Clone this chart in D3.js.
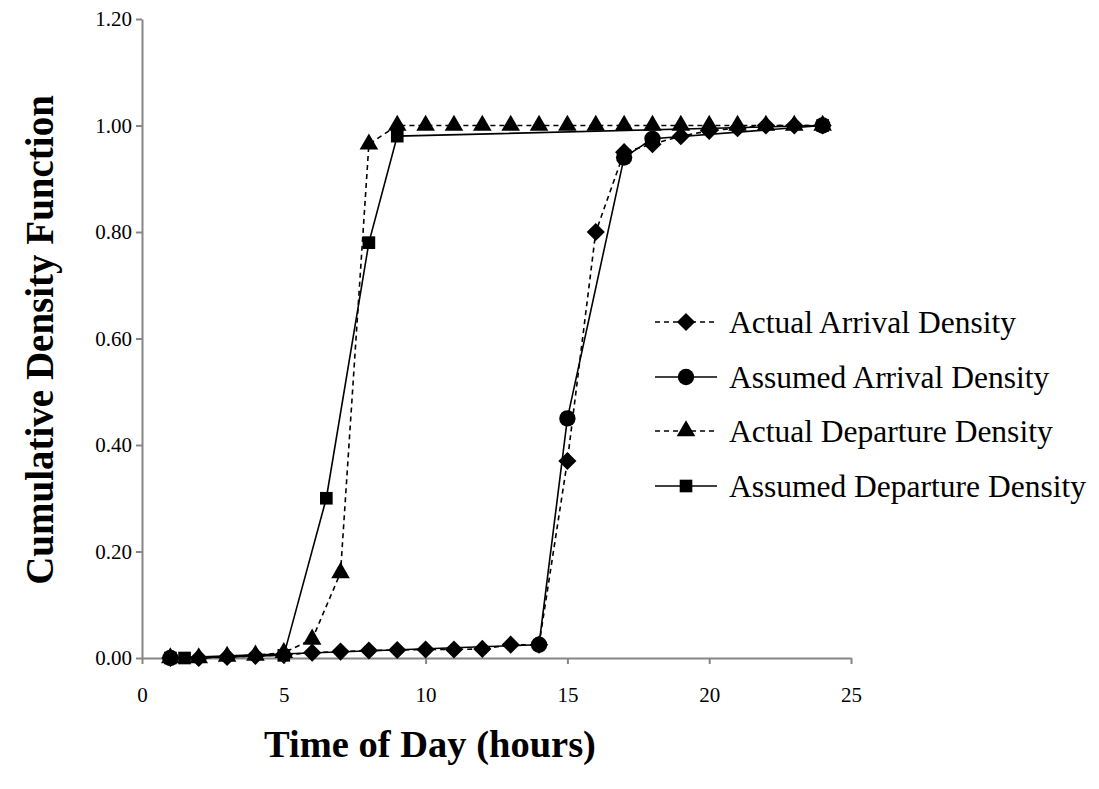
<!DOCTYPE html>
<html><head><meta charset="utf-8">
<script src="https://cdn.jsdelivr.net/npm/d3@7"></script>
<style>body{margin:0;background:#fff}</style>
</head><body>
<svg id="c" width="1099" height="789"></svg>
<script>
const xTicks = [0,5,10,15,20,25];
const yTicks = [0,0.2,0.4,0.6,0.8,1.0,1.2];

const actArrT = [1,2,3,4,5,6,7,8,9,10,11,12,13,14,15,16,17,18,19,20,21,22,23,24];
const actArrV = [0,0,0.002,0.004,0.006,0.01,0.012,0.014,0.015,0.016,0.016,0.017,0.025,0.025,0.37,0.80,0.95,0.965,0.98,0.99,0.995,1.0,1.0,1.0];

const asmArrT = [1,14,15,17,18,24];
const asmArrV = [0,0.025,0.45,0.94,0.975,1.0];

const actDepT = [1,2,3,4,5,6,7,8,9,10,11,12,13,14,15,16,17,18,19,20,21,22,23,24];
const actDepV = [0,0,0.003,0.005,0.01,0.035,0.16,0.965,1.0,1.0,1.0,1.0,1.0,1.0,1.0,1.0,1.0,1.0,1.0,1.0,1.0,1.0,1.0,1.0];

const asmDepT = [1,1.5,5,6.5,8,9,24];
const asmDepV = [0,0,0.005,0.30,0.78,0.98,1.0];

const seriesNames = ["Actual Arrival Density","Assumed Arrival Density","Actual Departure Density","Assumed Departure Density"];

const svg = d3.select("#c");
const x = d3.scaleLinear().domain([0,25]).range([142,851]);
const y = d3.scaleLinear().domain([0,1.2]).range([658,19]);
const axisColor = "#868686";
const serif = "'Liberation Serif','Times New Roman',serif";

const xa = svg.append("g").attr("transform","translate(0,658)")
  .call(d3.axisBottom(x).tickValues(xTicks).tickSize(6).tickSizeOuter(0).tickPadding(23).tickFormat(d3.format("d")));
const ya = svg.append("g").attr("transform","translate(142,0)")
  .call(d3.axisLeft(y).tickValues(yTicks).tickSize(6).tickSizeOuter(0).tickPadding(4).tickFormat(d3.format(".2f")));
[xa,ya].forEach(a=>{
  a.selectAll("path,line").attr("stroke",axisColor).attr("stroke-width",2);
  a.selectAll("text").attr("font-family",serif).attr("font-size",21).attr("fill","#000");
});

const line = d3.line().x(d=>x(d[0])).y(d=>y(d[1]));
const zip = (t,v)=>t.map((d,i)=>[d,v[i]]);
const series = [
  {data: zip(actArrT,actArrV), dash:"5,4", sym:d3.symbolDiamond2, size:210},
  {data: zip(asmArrT,asmArrV), dash:null, sym:d3.symbolCircle, size:210},
  {data: zip(actDepT,actDepV), dash:"5,4", sym:d3.symbolTriangle, size:150},
  {data: zip(asmDepT,asmDepV), dash:null, sym:d3.symbolSquare, size:160},
];
series.forEach(s=>{
  svg.append("path").datum(s.data).attr("d",line).attr("fill","none")
    .attr("stroke","#000").attr("stroke-width",1.6).attr("stroke-dasharray",s.dash);
});
series.forEach(s=>{
  svg.append("g").selectAll("path").data(s.data).join("path")
    .attr("transform",d=>`translate(${x(d[0])},${y(d[1])})`)
    .attr("d",d3.symbol().type(s.sym).size(s.size)).attr("fill","#000");
});

// legend
const legY = [322,377,431,486];
series.forEach((s,i)=>{
  const g = svg.append("g").attr("transform",`translate(0,${legY[i]})`);
  g.append("line").attr("x1",655).attr("x2",717).attr("y1",0).attr("y2",0)
    .attr("stroke","#000").attr("stroke-width",1.6).attr("stroke-dasharray",s.dash);
  g.append("path").attr("transform","translate(686,0)")
    .attr("d",d3.symbol().type(s.sym).size(s.size)).attr("fill","#000");
  g.append("text").attr("x",729).attr("y",11).text(seriesNames[i])
    .attr("font-family",serif).attr("font-size",31.5).attr("fill","#000");
});

svg.append("text").attr("x",430).attr("y",757).attr("text-anchor","middle")
  .attr("font-family",serif).attr("font-weight","bold").attr("font-size",38.5).text("Time of Day (hours)");
svg.append("text").attr("transform","translate(53,340) rotate(-90)").attr("text-anchor","middle")
  .attr("font-family",serif).attr("font-weight","bold").attr("font-size",39).text("Cumulative Density Function");
</script>
</body></html>
